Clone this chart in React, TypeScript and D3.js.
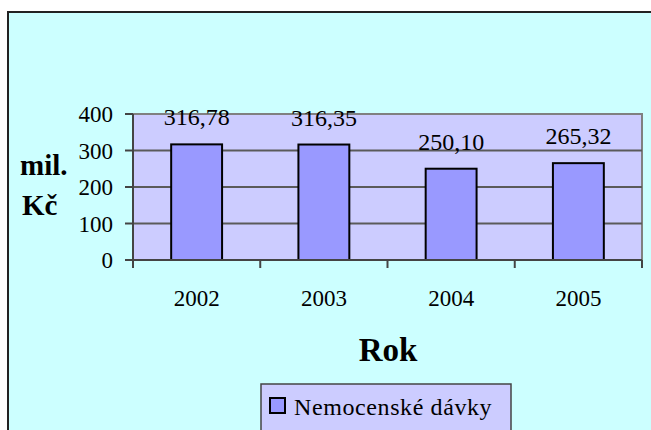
import React from 'react';
import * as d3 from 'd3';

const years = ['2002', '2003', '2004', '2005'];
const values = [316.78, 316.35, 250.10, 265.32];
const valueLabels = ['316,78', '316,35', '250,10', '265,32'];
const yTicks = [0, 100, 200, 300, 400];
const seriesName = 'Nemocenské dávky';

const W = 651;
const H = 430;
const plot = { left: 133, right: 642, top: 114, bottom: 260 };
const font = '"Liberation Serif", "Times New Roman", serif';

export default function App() {
  const x = d3.scaleBand<string>()
    .domain(years)
    .range([plot.left, plot.right])
    .paddingInner(0.6)
    .paddingOuter(0.3);

  const step = (plot.right - plot.left) / years.length;

  const y = d3.scaleLinear()
    .domain([0, 400])
    .range([plot.bottom, plot.top]);

  return (
    <svg width={W} height={H} style={{ position: 'absolute', left: 0, top: 0, background: '#fff' }}
      fontFamily={font}>
      {/* obrys grafu */}
      <rect x={8} y={12} width={700} height={500} fill="#CCFFFF" stroke="#222" strokeWidth={2} />

      {/* plocha grafu */}
      <rect x={plot.left} y={plot.top} width={plot.right - plot.left} height={plot.bottom - plot.top}
        fill="#CCCCFF" stroke="#808080" strokeWidth={2} />

      {/* mřížka */}
      {yTicks.filter(t => t > 0 && t < 400).map(t => (
        <line key={t} x1={plot.left} x2={plot.right} y1={y(t)} y2={y(t)} stroke="#5a5a5a" strokeWidth={2} />
      ))}

      {/* sloupce */}
      {years.map((yr, i) => (
        <rect key={yr} x={x(yr)} y={y(values[i])} width={x.bandwidth()} height={y(0) - y(values[i])}
          fill="#9999FF" stroke="#000" strokeWidth={2} />
      ))}

      {/* popisky hodnot */}
      {years.map((yr, i) => (
        <text key={yr} x={(x(yr) || 0) + x.bandwidth() / 2} y={y(values[i]) - 19}
          textAnchor="middle" fontSize={24} fill="#000">{valueLabels[i]}</text>
      ))}

      {/* osa Y */}
      <line x1={plot.left} x2={plot.left} y1={plot.top} y2={plot.bottom} stroke="#444" strokeWidth={2} />
      {yTicks.map(t => (
        <g key={t}>
          <line x1={plot.left - 8} x2={plot.left} y1={y(t)} y2={y(t)} stroke="#444" strokeWidth={2} />
          <text x={113} y={y(t) + 8} textAnchor="end" fontSize={23} fill="#000">{t}</text>
        </g>
      ))}

      {/* osa X */}
      <line x1={plot.left} x2={plot.right} y1={plot.bottom} y2={plot.bottom} stroke="#444" strokeWidth={2} />
      {d3.range(years.length + 1).map(i => (
        <line key={i} x1={plot.left + i * step} x2={plot.left + i * step} y1={plot.bottom} y2={plot.bottom + 8}
          stroke="#444" strokeWidth={2} />
      ))}
      {years.map(yr => (
        <text key={yr} x={(x(yr) || 0) + x.bandwidth() / 2} y={306} textAnchor="middle" fontSize={23} fill="#000">{yr}</text>
      ))}

      {/* názvy os */}
      <text x={388} y={361} textAnchor="middle" fontSize={33} fontWeight="bold" fill="#000">Rok</text>
      <text x={20} y={175} fontSize={29} fontWeight="bold" fill="#000">mil.</text>
      <text x={22} y={215} fontSize={29} fontWeight="bold" fill="#000">Kč</text>

      {/* legenda */}
      <rect x={261} y={384} width={250} height={60} fill="#CCCCFF" stroke="#444" strokeWidth={1.5} />
      <rect x={270} y={398} width={15} height={15} fill="#9999FF" stroke="#000" strokeWidth={2} />
      <text x={294} y={415} fontSize={24} letterSpacing={0.6} fill="#000">{seriesName}</text>
    </svg>
  );
}
